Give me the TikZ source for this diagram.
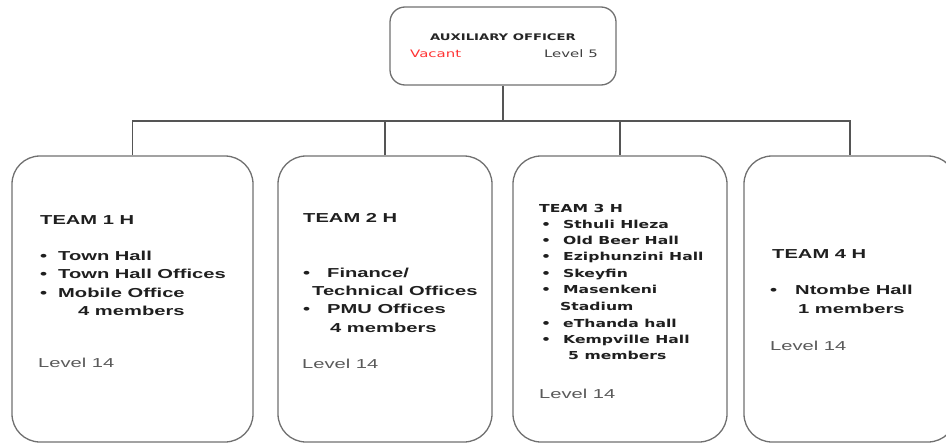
\documentclass[tikz,border=0pt]{standalone}
\usepackage{fontspec}
\setmainfont{Liberation Sans}
\newfontfamily\arwide{Liberation Sans}[FakeStretch=1.55]
\newfontfamily\dvwide{DejaVu Sans}[FakeStretch=1.42]
\newfontfamily\dvtop{DejaVu Sans}[FakeStretch=1.45]
\definecolor{linegray}{HTML}{555555}
\definecolor{boxgray}{HTML}{707070}
\definecolor{lvlgray}{HTML}{5A5A5A}
\definecolor{vacred}{HTML}{FF3333}
\begin{document}
\begin{tikzpicture}[x=1pt,y=-1pt,
  topbox/.style={draw=boxgray,line width=1.3pt,rounded corners=15pt,
    minimum width=226pt,minimum height=78pt,inner sep=0pt},
  teambox/.style={draw=boxgray,line width=1.3pt,rounded corners=28pt,
    minimum height=286pt,inner sep=0pt},
  link/.style={draw=linegray,line width=1.5pt},
  txt/.style={anchor=base west,inner sep=0pt,text=black!88,
    font=\arwide\bfseries\fontsize{13}{15}\selectfont},
  txtthree/.style={anchor=base west,inner sep=0pt,text=black!88,
    font=\dvwide\bfseries\fontsize{11}{13}\selectfont},
  lvl/.style={anchor=base west,inner sep=0pt,text=lvlgray,
    font=\arwide\fontsize{13}{15}\selectfont}]
\useasboundingbox (0,0) rectangle (946,444);
\clip (0,0) rectangle (946,444);

% boxes
\node[topbox] (top) at (503,46) {};
\node[teambox,minimum width=241pt] (t1) at (132.5,299) {};
\node[teambox,minimum width=214pt] (t2) at (385,299) {};
\node[teambox,minimum width=214pt] (t3) at (620,299) {};
\node[teambox,minimum width=212pt] (t4) at (850,299) {};

% connectors
\coordinate (bus) at (503,121);
\draw[link] (top.south) -- (top.south |- bus);
\draw[link] (t1.north) -- (t1.north |- bus) -- (t4.north |- bus) -- (t4.north);
\draw[link] (t2.north) -- (t2.north |- bus);
\draw[link] (t3.north) -- (t3.north |- bus);

% top box text
\node[anchor=base,inner sep=0pt,text=black!85,
  font=\dvtop\bfseries\fontsize{9.1}{11}\selectfont] (auxt) at (503,41) {AUXILIARY OFFICER};
\node[anchor=base west,inner sep=0pt,text=vacred,
  font=\dvtop\fontsize{10.3}{12}\selectfont] (vac) at (410,58) {Vacant};
\node[anchor=base east,inner sep=0pt,text=black!75,
  font=\dvtop\fontsize{10.3}{12}\selectfont] (lv5) at (598,58) {Level 5};

% team 1
\node[txt] (a0) at (40,224) {TEAM 1 H};
\node[txt] (a1b) at (40,260) {•};
\node[txt] (a1) at (58,260) {Town Hall};
\node[txt] (a2b) at (40,278) {•};
\node[txt] (a2) at (58,278) {Town Hall Offices};
\node[txt] (a3b) at (40,297) {•};
\node[txt] (a3) at (58,297) {Mobile Office};
\node[txt] (a4) at (78,315) {4 members};
\node[lvl] (a5) at (38,367) {Level 14};

% team 2
\node[txt] (b0) at (303,222) {TEAM 2 H};
\node[txt] (b1b) at (303,277) {•};
\node[txt] (b1) at (327,277) {Finance/};
\node[txt] (b2) at (312,295) {Technical Offices};
\node[txt] (b3b) at (303,313) {•};
\node[txt] (b3) at (327,313) {PMU Offices};
\node[txt] (b4) at (330,332) {4 members};
\node[lvl] (b5) at (302,368) {Level 14};

% team 3
\node[txtthree] (c0) at (539,212) {TEAM 3 H};
\foreach \i/\name in {0/Sthuli Hleza,1/Old Beer Hall,2/Eziphunzini Hall,3/Skeyfin,4/Masenkeni}{
  \node[txtthree] (cb\i) at (541,228+16.4*\i) {•};
  \node[txtthree] (c\i) at (563,228+16.4*\i) {\name};
}
\node[txtthree] (c5) at (560,310.6) {Stadium};
\node[txtthree] (cb6) at (541,327) {•};
\node[txtthree] (c6) at (563,327) {eThanda hall};
\node[txtthree] (cb7) at (541,343.4) {•};
\node[txtthree] (c7) at (563,343.4) {Kempville Hall};
\node[txtthree] (c8) at (568,359.8) {5 members};
\node[lvl] (c9) at (539,398) {Level 14};

% team 4
\node[txt] (d0) at (772,258) {TEAM 4 H};
\node[txt] (d1b) at (770,294) {•};
\node[txt] (d1) at (795,294) {Ntombe Hall};
\node[txt] (d2) at (798,313) {1 members};
\node[lvl] (d3) at (770,350) {Level 14};
\end{tikzpicture}
\end{document}
